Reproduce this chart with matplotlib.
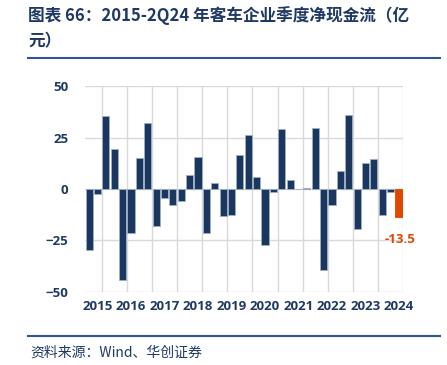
#!/usr/bin/env python3
"""Quarterly net cash flow of bus makers, 2015-2Q24 (bar chart)"""
import matplotlib
matplotlib.use('agg')
import matplotlib.pyplot as plt
from matplotlib.lines import Line2D

years = ['2015', '2016', '2017', '2018', '2019', '2020', '2021', '2022', '2023', '2024']
# net cash flow per quarter, 2015Q1 .. 2024Q2 (100m yuan)
values = [-29.5, -2.4, 35.7, 19.4,
          -44.2, -21.7, 14.9, 32.1,
          -18.0, -4.4, -7.8, -5.7,
          6.8, 15.7, -21.4, 2.8,
          -13.1, -12.6, 16.7, 26.4,
          6.0, -27.2, -1.6, 29.2,
          4.4, 0.0, 0.3, 29.5,
          -39.4, -7.9, 8.8, 35.8,
          -19.4, 12.8, 14.6, -12.6,
          -1.3, -13.5]
yticks = [-50, -25, 0, 25, 50]

NAVY = '#1b365f'
ORANGE = '#e04800'
TXT = '#1f3864'
GRID = '#d9d9d9'

plt.rcParams['font.family'] = ['Noto Sans CJK SC', 'DejaVu Sans']

def main():
    fig = plt.figure(figsize=(4.47, 3.65), dpi=100)
    ax = fig.add_axes([0.190, 0.201, 0.712, 0.563])

    xs = list(range(len(values)))
    colors = [NAVY] * (len(values) - 1) + [ORANGE]
    edges = ['#9fb0c4'] * (len(values) - 1) + [ORANGE]
    ax.bar(xs, values, width=0.84, color=colors, edgecolor=edges, linewidth=0.6, zorder=3)

    last = values[-1]
    ax.annotate('{:.1f}'.format(last), xy=(xs[-1], last), xytext=(1, -12),
                textcoords='offset points', ha='center', va='top',
                color=ORANGE, fontsize=9.5, fontweight='bold', family='Open Sans')

    ax.set_xlim(-0.5, len(values) - 0.5)
    ax.set_ylim(-50, 50)
    ax.set_yticks(yticks)
    # year label sits on the Q2 bar of every year
    ax.set_xticks([1 + 4 * i for i in range(len(years))])
    ax.set_xticklabels(years)
    ax.set_xticks([1.5 + 3 * i for i in range(12)] + [len(values) - 0.5], minor=True)
    ax.grid(axis='y', which='major', color=GRID, linewidth=1, zorder=0)
    ax.grid(axis='x', which='minor', color=GRID, linewidth=1, zorder=0)
    ax.grid(axis='x', which='major', visible=False)
    for sp in ax.spines.values():
        sp.set_visible(False)
    ax.tick_params(axis='both', which='both', length=0)
    ax.tick_params(axis='y', pad=12)
    ax.tick_params(axis='x', pad=6)
    for lab in ax.get_xticklabels() + ax.get_yticklabels():
        lab.set_family('Open Sans')
        lab.set_fontweight('bold')
        lab.set_fontsize(9.5)
        lab.set_color(TXT)

    fig.text(28 / 447, 1 - 16 / 365, '图表 66：2015-2Q24 年客车企业季度净现金流（亿',
             fontsize=12, fontweight='bold', color=TXT, va='center', ha='left')
    fig.text(28 / 447, 1 - 41 / 365, '元）',
             fontsize=12, fontweight='bold', color=TXT, va='center', ha='left')
    fig.add_artist(Line2D([28 / 447, 440 / 447], [1 - 57.5 / 365] * 2,
                          color='#2f5597', linewidth=1.5))
    fig.add_artist(Line2D([28 / 447, 440 / 447], [1 - 335.5 / 365] * 2,
                          color='#2f5597', linewidth=1.5))
    fig.text(30 / 447, 1 - 353 / 365, '资料来源：Wind、华创证券',
             fontsize=10, style='italic', color=TXT, va='center', ha='left')

    fig.savefig('out.png', dpi=100)

if __name__ == '__main__':
    main()
